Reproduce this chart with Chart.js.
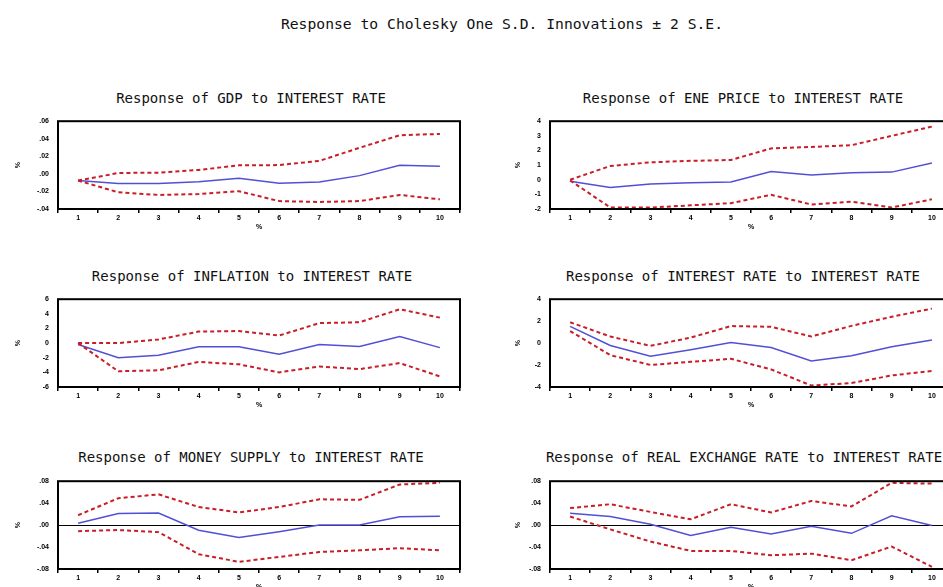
<!DOCTYPE html>
<html>
<head>
<meta charset="utf-8">
<script src="https://cdn.jsdelivr.net/npm/chart.js@4.4.0/dist/chart.umd.min.js"></script>
<style>
  body { margin: 0; background: #fff; width: 943px; height: 587px; overflow: hidden; position: relative; }
  .ttl { position: absolute; width: 500px; text-align: center; white-space: nowrap;
         font-family: "DejaVu Sans Mono", monospace; font-size: 14px; line-height: 16px; color: #111; }
  canvas { position: absolute; }
</style>
</head>
<body>
<div class="ttl" style="left:252px; top:16px; font-size:14.7px;">Response to Cholesky One S.D. Innovations ± 2 S.E.</div>

<div class="ttl" style="left:1px; top:90px;">Response of GDP to INTEREST RATE</div>
<div class="ttl" style="left:493px; top:90px;">Response of ENE PRICE to INTEREST RATE</div>
<div class="ttl" style="left:2px; top:268px;">Response of INFLATION to INTEREST RATE</div>
<div class="ttl" style="left:493px; top:268px;">Response of INTEREST RATE to INTEREST RATE</div>
<div class="ttl" style="left:1px; top:449px;">Response of MONEY SUPPLY to INTEREST RATE</div>
<div class="ttl" style="left:494px; top:449px;">Response of REAL EXCHANGE RATE to INTEREST RATE</div>

<canvas id="gdp" width="470" height="127" style="left:0; top:108px;"></canvas>
<canvas id="ene" width="490" height="127" style="left:470px; top:108px;"></canvas>
<canvas id="inf" width="470" height="127" style="left:0; top:286px;"></canvas>
<canvas id="ir" width="490" height="127" style="left:470px; top:286px;"></canvas>
<canvas id="ms" width="470" height="127" style="left:0; top:468px;"></canvas>
<canvas id="rer" width="490" height="127" style="left:470px; top:468px;"></canvas>

<script>
// periods after the shock
const periods = ['1', '2', '3', '4', '5', '6', '7', '8', '9', '10'];

// GDP
const gdpMean  = [-0.0076, -0.011, -0.011, -0.009, -0.005, -0.0107, -0.0093, -0.002, 0.0097, 0.0086];
const gdpUpper = [-0.0076, 0.001, 0.0014, 0.0045, 0.0097, 0.010, 0.0148, 0.0297, 0.044, 0.0455];
const gdpLower = [-0.0076, -0.021, -0.024, -0.023, -0.0197, -0.031, -0.032, -0.031, -0.024, -0.029];
const gdpTicks = [-0.04, -0.02, 0, 0.02, 0.04, 0.06];

// ENE PRICE
const eneMean  = [-0.1, -0.53, -0.3, -0.2, -0.16, 0.56, 0.32, 0.48, 0.52, 1.14];
const eneUpper = [0.0, 0.94, 1.19, 1.29, 1.35, 2.14, 2.24, 2.36, 3.0, 3.63];
const eneLower = [-0.05, -1.9, -1.9, -1.75, -1.6, -1.03, -1.69, -1.5, -1.9, -1.34];
const eneTicks = [-2, -1, 0, 1, 2, 3, 4];

// INFLATION
const infMean  = [-0.2, -1.99, -1.65, -0.5, -0.5, -1.53, -0.2, -0.45, 0.91, -0.62];
const infUpper = [0, 0, 0.5, 1.57, 1.65, 1.03, 2.73, 2.85, 4.63, 3.48];
const infLower = [0, -3.85, -3.72, -2.57, -2.9, -4.0, -3.19, -3.56, -2.73, -4.55];
const infTicks = [-6, -4, -2, 0, 2, 4, 6];

// INTEREST RATE
const irMean  = [1.52, -0.22, -1.19, -0.6, 0.05, -0.41, -1.63, -1.16, -0.33, 0.28];
const irUpper = [1.9, 0.6, -0.25, 0.5, 1.55, 1.49, 0.6, 1.57, 2.4, 3.14];
const irLower = [1.1, -1.1, -1.99, -1.71, -1.43, -2.4, -3.86, -3.64, -2.95, -2.54];
const irTicks = [-4, -2, 0, 2, 4];

// MONEY SUPPLY
const msMean  = [0.0033, 0.021, 0.022, -0.0094, -0.0228, -0.012, 0.0, 0.0, 0.015, 0.016];
const msUpper = [0.018, 0.049, 0.056, 0.033, 0.023, 0.033, 0.047, 0.046, 0.074, 0.077];
const msLower = [-0.011, -0.009, -0.0128, -0.053, -0.067, -0.058, -0.049, -0.046, -0.042, -0.046];
const msTicks = [-0.08, -0.04, 0, 0.04, 0.08];

// REAL EXCHANGE RATE
const rerMean  = [0.0217, 0.0156, 0.0017, -0.019, -0.0039, -0.016, -0.0022, -0.015, 0.017, -0.0006];
const rerUpper = [0.031, 0.038, 0.024, 0.0106, 0.038, 0.023, 0.044, 0.034, 0.077, 0.0756];
const rerLower = [0.0156, -0.0078, -0.03, -0.047, -0.047, -0.055, -0.052, -0.064, -0.039, -0.076];
const rerTicks = [-0.08, -0.04, 0, 0.04, 0.08];

const meanColor = 'rgb(80, 80, 215)';
const bandColor = 'rgb(200, 30, 40)';
const tickFont = { family: 'Liberation Sans', size: 7, weight: 'bold' };

// EViews style: .04, -.02, .00
const fmtDec = v => (v < -1e-9 ? '-' : '') + Math.abs(v).toFixed(2).replace(/^0/, '');
const fmtInt = v => String(Math.round(v));

const frame = {
  id: 'frame',
  afterDraw(chart) {
    const a = chart.chartArea, c = chart.ctx;
    c.save();
    c.strokeStyle = '#000';
    c.lineWidth = 2;
    c.strokeRect(a.left, a.top, a.right - a.left, a.bottom - a.top);
    c.restore();
  }
};

function makePanel(id, mean, upper, lower, ticks, fmt, zeroLine, col) {
  return new Chart(document.getElementById(id), {
    type: 'line',
    data: {
      labels: periods,
      datasets: [
        { data: upper, borderColor: bandColor, borderDash: [4, 3], borderWidth: 2, pointRadius: 0 },
        { data: lower, borderColor: bandColor, borderDash: [4, 3], borderWidth: 2, pointRadius: 0 },
        { data: mean, borderColor: meanColor, borderWidth: 1.5, pointRadius: 0 }
      ]
    },
    options: {
      responsive: false,
      animation: false,
      layout: { padding: { left: col ? 30 : 0, right: col ? 8 : 10, top: 4, bottom: 0 } },
      plugins: { legend: { display: false }, tooltip: { enabled: false } },
      scales: {
        x: {
          offset: true,
          grid: { offset: true, drawOnChartArea: false, color: '#000', lineWidth: 1.5, tickLength: 4 },
          border: { display: false },
          ticks: { font: tickFont, color: '#000', padding: 1, maxRotation: 0, autoSkip: false },
          title: { display: true, text: '%', font: tickFont, color: '#000', padding: { top: 0, bottom: 4 } },
          afterFit: s => { s.height = 26; }
        },
        y: {
          min: ticks[0],
          max: ticks[ticks.length - 1],
          afterBuildTicks: s => { s.ticks = ticks.map(v => ({ value: v })); },
          grid: {
            drawTicks: false,
            lineWidth: 1,
            color: ctx => (zeroLine && ctx.tick && Math.abs(ctx.tick.value) < 1e-9) ? '#000' : 'rgba(0,0,0,0)'
          },
          border: { display: false },
          ticks: { font: tickFont, color: '#000', padding: 9, callback: fmt },
          title: { display: true, text: '%', font: tickFont, color: '#000', padding: { top: 14, bottom: 0 } },
          afterFit: s => { s.width = col ? 50 : 58; }
        }
      }
    },
    plugins: [frame]
  });
}

makePanel('gdp', gdpMean, gdpUpper, gdpLower, gdpTicks, fmtDec, false, 0);
makePanel('ene', eneMean, eneUpper, eneLower, eneTicks, fmtInt, false, 1);
makePanel('inf', infMean, infUpper, infLower, infTicks, fmtInt, false, 0);
makePanel('ir', irMean, irUpper, irLower, irTicks, fmtInt, false, 1);
makePanel('ms', msMean, msUpper, msLower, msTicks, fmtDec, true, 0);
makePanel('rer', rerMean, rerUpper, rerLower, rerTicks, fmtDec, true, 1);
</script>
</body>
</html>
